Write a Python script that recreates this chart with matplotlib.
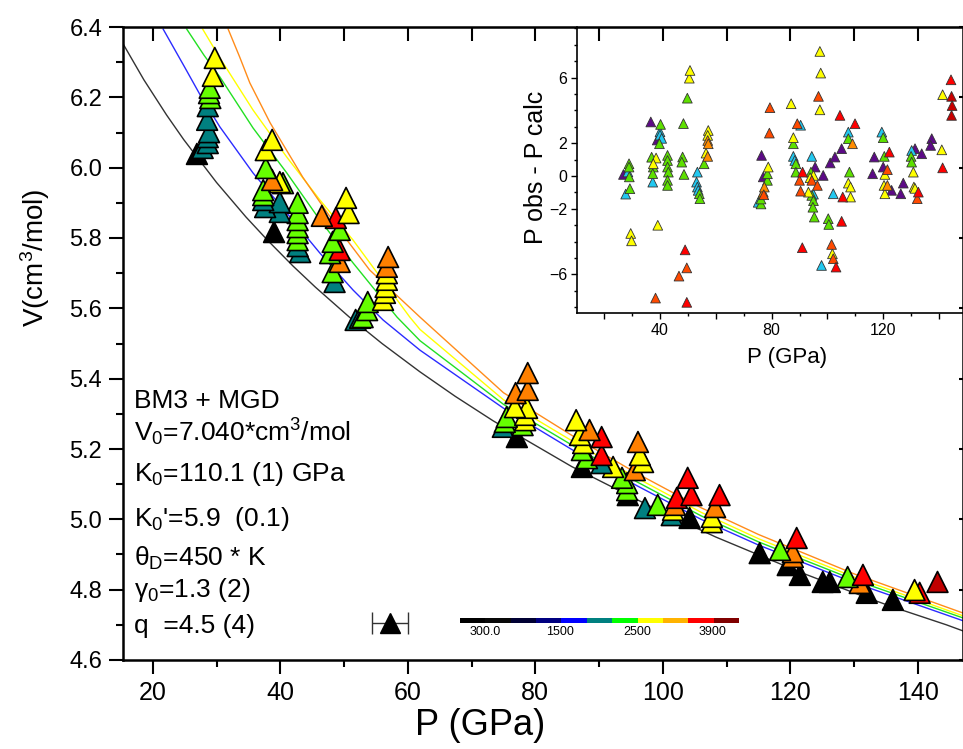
import numpy as np
import matplotlib
matplotlib.use('Agg')
import matplotlib.pyplot as plt
from matplotlib.colors import ListedColormap
from matplotlib.ticker import MultipleLocator, FixedLocator, FuncFormatter

plt.rcParams['font.family'] = ['Liberation Sans', 'DejaVu Sans']
plt.rcParams['mathtext.fontset'] = 'custom'
plt.rcParams['mathtext.rm'] = 'Liberation Sans'
plt.rcParams['mathtext.default'] = 'regular'

# ---- isotherms ----
p_300 = [15.38, 18.57, 22.13, 24.82, 29.97, 34.58, 37.96, 41.99, 45.5, 50.82, 55.94, 61.85,
         67.41, 73.39, 85.71, 98.8, 108.27, 121.5, 131.6, 136.21, 144.5, 147.51]
v_300 = [6.35, 6.25, 6.15, 6.08, 5.958, 5.86, 5.794, 5.72, 5.66, 5.575, 5.5, 5.42,
         5.35, 5.28, 5.15, 5.03, 4.95, 4.85, 4.78, 4.75, 4.70, 4.68]
p_1500 = [21.6, 25, 27.4, 30.5, 35.7, 41.0, 46.2, 51.4, 56.1, 61.9, 75, 86.5, 96, 106, 115, 130, 147.2]
v_1500 = [6.394, 6.285, 6.207, 6.116, 5.985, 5.871, 5.757, 5.652, 5.567, 5.481, 5.316,
          5.190, 5.095, 5.000, 4.927, 4.820, 4.711]
p_2000 = [25.3, 28, 30.5, 35.7, 41, 46.2, 51.4, 58.3, 61.9, 75, 86.5, 96, 106, 115, 130, 147.2]
v_2000 = [6.394, 6.320, 6.258, 6.113, 5.985, 5.851, 5.729, 5.575, 5.508, 5.327, 5.203,
          5.106, 5.010, 4.936, 4.828, 4.719]
p_2500 = [27.8, 30.5, 35.7, 41, 46.2, 51.4, 60.3, 61.9, 75, 86.5, 96, 106, 115, 130, 147.2]
v_2500 = [6.394, 6.312, 6.164, 6.030, 5.908, 5.794, 5.575, 5.540, 5.340, 5.215, 5.117,
          5.020, 4.945, 4.836, 4.725]
p_3000 = [31.8, 33.6, 35.2, 38.4, 43.5, 48.9, 54, 61.9, 75, 86.5, 96, 106, 115, 130, 147.2]
v_3000 = [6.394, 6.315, 6.241, 6.127, 5.973, 5.831, 5.709, 5.575, 5.360, 5.230, 5.130,
          5.033, 4.957, 4.845, 4.733]

# ---- main data points: P, V, colour key ----
main_p = [29.7, 29.4, 28.9, 28.8, 29.0, 28.6, 28.5, 28.8, 28.6, 28.6, 27.8, 26.9,
          38.7, 37.7, 37.7, 38.7, 39.9, 40.4, 37.3, 37.3, 37.3, 37.6, 39.9, 39.9, 39.0,
          42.7, 42.7, 42.7, 42.7, 42.7, 42.7, 42.7, 43.1,
          46.5, 48.7, 50.3, 50.7, 49.3, 48.2, 49.3, 47.8, 49.3, 48.2, 48.5,
          56.9, 56.7, 56.7, 56.7, 56.5, 56.4, 56.1, 53.7, 53.6, 52.9, 52.5, 51.8,
          78.8, 78.8, 76.9, 76.8, 78.7, 78.4, 78.4, 75.5, 75.2, 78.0, 74.9, 77.1,
          86.4, 88.5, 90.4, 87.0, 87.5, 87.3, 90.4, 88.1, 90.4, 87.3,
          96.1, 96.4, 96.9, 92.2, 95.6, 93.6, 94.4, 94.4, 94.5,
          97.2, 99.2, 102.2, 101.9, 101.6, 101.4, 103.9, 104.5, 104.2, 108.9, 108.2, 107.7, 107.7,
          115.2, 118.4, 120.4, 120.4, 121.0, 119.6, 121.5, 125.1, 126.2, 129.0, 131.4, 130.9,
          132.0, 136.1, 139.5, 140.3, 143.1]
main_v = [6.312, 6.261, 6.227, 6.212, 6.198, 6.175, 6.136, 6.101, 6.087, 6.070, 6.056, 6.039,
          6.079, 6.050, 5.999, 5.965, 5.959, 5.956, 5.936, 5.922, 5.908, 5.888, 5.902, 5.874, 5.817,
          5.900, 5.871, 5.851, 5.831, 5.814, 5.794, 5.777, 5.760,
          5.863, 5.857, 5.914, 5.871, 5.823, 5.789, 5.766, 5.757, 5.732, 5.703, 5.675,
          5.746, 5.718, 5.700, 5.681, 5.661, 5.644, 5.624, 5.618, 5.595, 5.575, 5.573, 5.567,
          5.416, 5.368, 5.359, 5.319, 5.317, 5.297, 5.282, 5.291, 5.277, 5.268, 5.263, 5.234,
          5.282, 5.254, 5.234, 5.240, 5.217, 5.197, 5.183, 5.174, 5.160, 5.149,
          5.220, 5.183, 5.163, 5.149, 5.140, 5.118, 5.103, 5.083, 5.069,
          5.032, 5.041, 5.061, 5.041, 5.027, 5.012, 5.118, 5.069, 5.004, 5.069, 5.035, 5.007, 4.992,
          4.904, 4.913, 4.907, 4.893, 4.947, 4.870, 4.842, 4.822, 4.822, 4.836, 4.842, 4.819,
          4.791, 4.771, 4.799, 4.791, 4.822]
main_c = ['y', 'y', 'g', 'g', 'g', 't', 't', 't', 't', 't', 't', 'k',
          'y', 'y', 'g', 'o', 'y', 'g', 'g', 'g', 't', 't', 't', 't', 'k',
          'g', 'g', 'g', 'g', 'g', 'g', 't', 't',
          'o', 'r', 'y', 'y', 'g', 'g', 'r', 'g', 'o', 'g', 't',
          'o', 'o', 'y', 'y', 'y', 'y', 'y', 'g', 'g', 'g', 't', 't',
          'o', 'o', 'o', 'y', 'y', 'y', 'y', 'g', 'g', 'g', 't', 'k',
          'y', 'o', 'r', 'y', 'y', 'g', 'r', 'g', 't', 'k',
          'o', 'y', 'y', 'y', 'o', 'g', 'g', 'g', 'k',
          't', 'g', 'r', 'o', 'y', 't', 'r', 'r', 'k', 'r', 'o', 'y', 'y',
          'k', 'g', 'o', 'o', 'r', 'k', 'k', 'k', 'k', 'g', 'r', 'o',
          'k', 'k', 'y', 'r', 'd']
main_colors = {'k': '#000000', 't': '#008080', 'g': '#66ff00', 'y': '#ffff00',
               'o': '#ff8000', 'r': '#ff0000', 'd': '#c00000'}

# ---- residuals (inset) ----
res_p = [26.9, 36.7, 39.0, 76.4, 77.0, 95.6, 98.5, 101.0, 102.7, 105.1, 116.2, 116.8, 120.0,
         123.0, 126.3, 127.2, 131.4, 133.8, 137.4, 137.0,
         27.7, 28.5, 40.0, 40.0, 40.6, 37.4, 53.4, 53.1, 53.4, 53.7, 75.2, 87.8, 88.3, 90.4,
         94.4, 95.0, 97.9, 102.1, 107.5, 119.5, 130.2,
         28.9, 28.9, 29.0, 29.2, 40.2, 39.8, 37.0, 37.6, 37.4, 42.7, 42.7, 42.7, 43.0, 42.7, 42.7,
         48.1, 47.8, 48.6, 48.4, 49.8, 54.1, 54.3, 55.8, 76.2, 76.2, 76.8, 78.5, 78.5, 87.8, 88.7,
         88.7, 94.1, 94.4, 95.0, 94.8, 95.3, 100.3, 100.5, 107.5, 107.9, 120.0, 120.4, 130.0, 130.2,
         29.5, 29.8, 38.6, 37.6, 39.2, 50.5, 50.75, 56.5, 57.3, 57.1, 78.8, 87.0, 87.8, 93.2, 95.0,
         93.8, 97.3, 97.6, 97.3, 101.8, 107.5, 108.3, 108.3, 120.6, 120.3, 120.6, 130.8, 131.0,
         131.4, 141.0, 141.3,
         57.1, 57.1, 57.3, 77.0, 77.4, 109.0, 121.5,
         38.4, 46.8, 49.6, 77.2, 79.2, 79.4, 89.2, 90.0, 90.4, 94.4, 96.4, 96.8, 101.5, 102.1,
         121.5, 132.2,
         49.0, 49.6, 91.1, 91.0, 103.1, 105.5, 105.1, 104.5, 109.9, 122.2, 132.6, 141.3, 144.3,
         144.5, 144.7, 144.5]
res_v = [0.10, 3.30, 2.20, 1.26, -0.05, 0.55, 0.04, 0.80, 1.16, 1.67, 0.14, 1.16, 0.55,
         -0.87, -1.08, -0.43, 1.67, 1.36, 2.28, 1.87,
         -1.10, 0.25, 2.70, 2.50, 2.30, -0.37, 0.24, -0.37, -0.67, -0.87, -1.60, 1.20, 0.95, 3.10,
         1.20, -1.10, -5.45, -1.08, 2.68, 2.68, 1.56,
         0.75, 0.55, -0.05, -0.77, 3.15, 1.97, 1.15, 0.55, 0.15, 1.26, 0.95, 0.55, 0.24, -0.26, -0.57,
         1.16, 0.85, 0.10, 3.20, 4.75, -1.08, -1.38, 0.75, -1.70, -1.40, -1.08, -0.26, 0.14, 1.97, 0.75,
         0.24, 0.24, -1.18, -1.50, -1.90, -2.50, -2.60, -2.95, 2.28, 0.24, 2.34, 1.20, 1.20, 0.85,
         -3.50, -3.95, 1.10, 0.75, -3.00, 5.97, 6.44, 1.40, 2.78, 2.48, 0.55, 4.41, 2.34, -0.98, 0.04,
         -0.10, 7.60, 6.28, 4.04, -4.74, -0.43, -0.67, -1.28, 0.10, -0.57, -1.08, 0.24, -0.67,
         -0.75, 1.60, 4.96,
         1.20, 2.17, 1.97, -0.98, -0.67, 1.97, -0.57,
         -7.44, -6.10, -5.60, -1.14, 2.62, 4.17, 3.19, -0.26, -0.92, -0.26, -0.57, 4.86, -4.17, -5.04,
         0.39, -1.38,
         -4.50, -7.70, 0.24, -4.37, -5.55, -1.28, -2.76, 3.70, 3.19, 1.46, -0.98, 0.50, 5.87,
         4.86, 4.30, 3.70]
res_c = (['#5c0a86'] * 20 + ['#22c8f0'] * 21 + ['#5ee000'] * 44 + ['#ffff00'] * 31
         + ['#ff8c00'] * 7 + ['#ff4a00'] * 16 + ['#ff0000'] * 13 + ['#c80000'] * 3)

# temperature scale
cbar_colors = ['#000000', '#080808', '#000033', '#000080', '#0000ff', '#008080',
               '#00ff00', '#ffff00', '#ffb300', '#ff0000', '#800000']
cbar_labels = ['300.0', '1500', '2500', '3900']

fig = plt.figure(figsize=(9.63, 7.49), dpi=100)
ax = fig.add_axes([123/963, 1 - 660/749, 840/963, 633/749])

ax.plot(p_300, v_300, color='#333333', lw=1.0, zorder=2)
ax.plot(p_1500, v_1500, color='#2b2bff', lw=1.0, zorder=2)
ax.plot(p_2000, v_2000, color='#22e022', lw=1.0, zorder=2)
ax.plot(p_2500, v_2500, color='#ffff00', lw=1.0, zorder=2)
ax.plot(p_3000, v_3000, color='#ff8c1a', lw=1.0, zorder=2)

order = np.argsort(main_v)
ax.scatter(np.array(main_p)[order], np.array(main_v)[order], s=15**2, marker='^',
           c=[main_colors[main_c[i]] for i in order], edgecolors='k', linewidths=1.2, zorder=3)

ax.errorbar([57.2], [4.705], xerr=[2.8], fmt='^', ms=15, mfc='k', mec='k',
            ecolor='#333333', elinewidth=1, capsize=8, zorder=3)

ax.set_xlim(15.3, 147.1)
ax.set_ylim(4.6, 6.4)
ax.xaxis.set_major_locator(MultipleLocator(20))
ax.xaxis.set_minor_locator(MultipleLocator(10))
ax.yaxis.set_major_locator(MultipleLocator(0.2))
ax.yaxis.set_minor_locator(MultipleLocator(0.1))
ax.yaxis.set_major_formatter(FuncFormatter(lambda v, pos: f'{v:.1f}'))
ax.tick_params(which='major', direction='out', length=10, width=1.5)
ax.tick_params(which='minor', direction='out', length=5, width=1.5)
ax.tick_params(axis='x', labelsize=18, pad=5)
ax.tick_params(axis='y', labelsize=17, pad=5)
for s in ax.spines.values():
    s.set_linewidth(1.8)

top = ax.secondary_xaxis('top')
top.set_xticks(np.arange(20, 150, 10))
top.tick_params(direction='in', length=10, width=1.5, labeltop=False)
right = ax.secondary_yaxis('right')
right.set_yticks(np.arange(4.6, 6.41, 0.2))
right.tick_params(direction='in', length=3, width=1.5, labelright=False)

ax.set_xlabel('P (GPa)', fontsize=26, va='center')
ax.xaxis.set_label_coords(0.425, -0.103)
ax.set_ylabel('V(cm$^3$/mol)', fontsize=20, va='center', ha='center')
ax.yaxis.set_label_coords(-0.105, 0.635)

params = ['BM3 + MGD', 'V$_0$=7.040*cm$^3$/mol', 'K$_0$=110.1 (1) GPa',
          "K$_0$'=5.9  (0.1)", 'θ$_D$=450 * K', 'γ$_0$=1.3 (2)', 'q  =4.5 (4)']
line_y = [401, 432, 474, 519, 558, 590, 626]
for txt, yp in zip(params, line_y):
    ax.text((134 - 123) / 840, (660 - yp) / 633, txt, transform=ax.transAxes,
            fontsize=19, ha='left', va='center')

# temperature colour strip
cax = fig.add_axes([460/963, 1 - 623/749, 278/963, 5/749])
cax.imshow(np.arange(len(cbar_colors)).reshape(1, -1), cmap=ListedColormap(cbar_colors),
           aspect='auto', interpolation='nearest')
cax.axis('off')
for lab, xp in zip(cbar_labels, [485, 560, 637, 712]):
    fig.text(xp / 963, 1 - 632/749, lab, fontsize=9, ha='center', va='center')

# inset: residuals
axi = fig.add_axes([577/963, 1 - 313/749, 386/963, 286/749], facecolor='none')
axi.scatter(res_p, res_v, s=7**2, marker='^', c=res_c, edgecolors='#333333',
            linewidths=0.6, zorder=3)
axi.set_xlim(10.25, 148.6)
axi.set_ylim(-8.35, 9.09)
axi.spines['top'].set_visible(False)
axi.spines['right'].set_visible(False)
for s in ['left', 'bottom']:
    axi.spines[s].set_linewidth(1.2)
axi.xaxis.set_major_locator(MultipleLocator(20))
axi.xaxis.set_minor_locator(MultipleLocator(10))
axi.xaxis.set_major_formatter(FuncFormatter(lambda v, pos: f'{v:.0f}' if v % 40 == 0 else ''))
axi.yaxis.set_major_locator(FixedLocator([-6, -2, 0, 2, 6]))
axi.yaxis.set_minor_locator(MultipleLocator(1))
axi.tick_params(which='major', direction='out', length=4, width=1, labelsize=11.5, pad=3)
axi.tick_params(which='minor', direction='out', length=2.5, width=1)
axi.set_xlabel('P (GPa)', fontsize=16, va='center')
axi.xaxis.set_label_coords(0.544, -0.154)
axi.set_ylabel('P obs - P calc', fontsize=18, va='center', ha='center')
axi.yaxis.set_label_coords(-0.105, 0.51)

fig.savefig('out.png', dpi=100)
